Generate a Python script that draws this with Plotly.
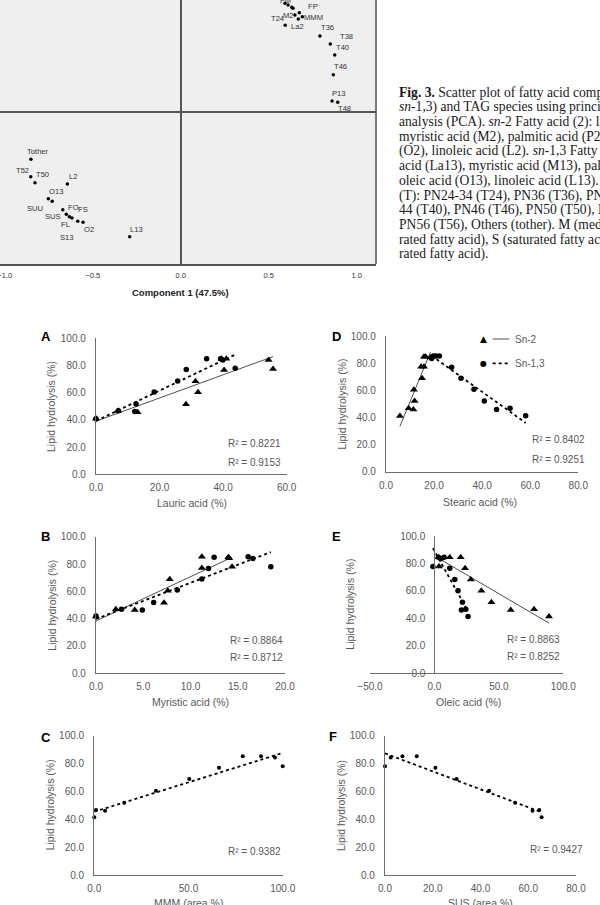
import numpy as np
import plotly.graph_objects as go

W, H = 600, 905

# ---------------- PCA data ----------------
pca_labels = ["FM", "", "", "", "FP", "M2", "T24", "MMM", "La2", "T36", "T38", "T40", "T46", "P13", "T48",
              "Tother", "T52", "T50", "L2", "O13", "SUU", "FO", "SUS", "FS", "FL", "S13", "O2", "L13"]
pca_comp1 = [0.593, 0.610, 0.631, 0.638, 0.674, 0.649, 0.668, 0.691, 0.594, 0.791, 0.850, 0.875, 0.867, 0.860, 0.892,
             -0.851, -0.852, -0.828, -0.644, -0.752, -0.730, -0.670, -0.650, -0.633, -0.618, -0.585, -0.555, -0.290]
pca_comp2 = [0.618, 0.608, 0.595, 0.589, 0.564, 0.551, 0.528, 0.541, 0.493, 0.432, 0.386, 0.324, 0.212, 0.0625, 0.055,
             -0.269, -0.368, -0.402, -0.409, -0.493, -0.507, -0.555, -0.581, -0.595, -0.602, -0.621, -0.627, -0.709]
pca_xticks = [-1.0, -0.5, 0.0, 0.5, 1.0]
pca_xtitle = "Component 1 (47.5%)"

# ---------------- Regression panels data ----------------
A_sn2_x = [0, 7.0, 13.1, 28.3, 32.1, 31.3, 40.3, 41.0, 39.5, 54.3, 55.7]
A_sn2_y = [41, 46.7, 45.6, 51.5, 60.3, 68.4, 76.7, 85, 85, 84, 77.5]
A_sn13_x = [0, 7.0, 12.2, 12.6, 18.3, 25.7, 28.4, 34.8, 39.2, 39.9, 43.8]
A_sn13_y = [40.9, 46.8, 46.1, 51.7, 60.5, 68.6, 77, 85, 85, 84, 77.9]

B_sn2_x = [0, 2.1, 4.1, 7.2, 7.6, 7.8, 11.2, 11.2, 14.0, 14.1, 14.4]
B_sn2_y = [41.5, 46.8, 46.3, 51.7, 60.5, 68.8, 77, 85.4, 85, 84.2, 78]
B_sn13_x = [0, 2.7, 4.9, 6.1, 8.6, 11.2, 11.9, 12.5, 16.1, 16.6, 18.5]
B_sn13_y = [42, 46.8, 46.3, 51.9, 61, 69, 76.8, 84.9, 85.4, 84.1, 78]

C_x = [0, 0.9, 5.7, 15.9, 32.7, 50.4, 66.2, 78.8, 88.5, 95.9, 100]
C_y = [41.4, 46.7, 46.2, 51.9, 60.5, 68.9, 77, 85.2, 85.2, 84.4, 78]

D_sn2_x = [5.8, 9.4, 11.4, 11.9, 11.6, 15.0, 14.6, 15.8, 15.8, 16.5, 18.5]
D_sn2_y = [41, 46.7, 45.9, 52.1, 60.4, 68.8, 77.4, 77.4, 84.8, 84.8, 84.2]
D_sn13_x = [58.1, 51.6, 46.0, 40.9, 36.6, 31.2, 27.3, 19.0, 19.7, 20.8, 22.2]
D_sn13_y = [41.3, 46.7, 45.9, 52.1, 60.7, 68.8, 76.9, 83.5, 85.3, 85.3, 85.3]

E_sn2_x = [88.9, 77.3, 59.2, 44.2, 36.4, 28.2, 23.8, 20.4, 11.9, 3.1, 3.6]
E_sn2_y = [41.3, 46.6, 46.1, 51.7, 60.2, 68.4, 76.5, 84.5, 84.5, 84.5, 77.7]
E_sn13_x = [26.1, 24.3, 20.9, 21.7, 18.3, 15.8, 11.9, 7.5, 3.1, 5.0, -1.2]
E_sn13_y = [41.3, 46.6, 46.1, 51.7, 60.2, 68.4, 76.5, 84.5, 84.5, 83.5, 77.7]

F_x = [65.6, 64.6, 61.8, 54.5, 43.6, 30.0, 21.1, 13.3, 7.3, 2.4, 0]
F_y = [41.4, 46.7, 46.2, 51.9, 60.5, 68.9, 77, 85.2, 85.2, 84.4, 78]

x_titles = {"A": "Lauric acid (%)", "B": "Myristic acid (%)", "C": "MMM (area %)",
            "D": "Stearic acid (%)", "E": "Oleic acid (%)", "F": "SUS (area %)"}
y_title = "Lipid hydrolysis (%)"
r2_labels = {"A": ["R² = 0.8221", "R² = 0.9153"], "B": ["R² = 0.8864", "R² = 0.8712"],
             "C": ["R² = 0.9382"], "D": ["R² = 0.8402", "R² = 0.9251"],
             "E": ["R² = 0.8863", "R² = 0.8252"], "F": ["R² = 0.9427"]}
legend_names = ["Sn-2", "Sn-1,3"]

caption_lines = [
    "<b>Fig. 3.</b> Scatter plot of fatty acid composition",
    "<i>sn</i>-1,3) and TAG species using principal",
    "analysis (PCA). <i>sn</i>-2 Fatty acid (2): lauric",
    "myristic acid (M2), palmitic acid (P2),",
    "(O2), linoleic acid (L2). <i>sn</i>-1,3 Fatty acid",
    "acid (La13), myristic acid (M13), palmitic",
    "oleic acid (O13), linoleic acid (L13). TAG",
    "(T): PN24-34 (T24), PN36 (T36), PN38",
    "44 (T40), PN46 (T46), PN50 (T50), PN52",
    "PN56 (T56), Others (tother). M (medium-",
    "rated fatty acid), S (saturated fatty acid),",
    "rated fatty acid).",
]

# ---------------- styling / layout helpers ----------------
SANS = "Liberation Sans, Arial, sans-serif"
SERIF = "Liberation Serif, Times New Roman, serif"
GRAY = "#595959"
AXC = "#6e6e6e"


def fx(px):
    return px / W


def fy(py):
    return 1 - py / H


def note(px, py, text, size, color=GRAY, family=SANS, xanchor="center", angle=0):
    return dict(x=fx(px), y=fy(py), xref="paper", yref="paper", text=text, showarrow=False,
                xanchor=xanchor, yanchor="middle", textangle=angle,
                font=dict(size=size, color=color, family=family))


fig = go.Figure()
annotations = []
shapes = []
layout = dict(width=W, height=H, margin=dict(l=0, r=0, t=0, b=0, pad=0), paper_bgcolor="white",
              plot_bgcolor="rgba(0,0,0,0)", showlegend=False, font=dict(family=SANS, color=GRAY))

# ---------------- PCA panel ----------------
pca_left, pca_right, pca_bottom, pca_top = 0, 376, 264, 0
pca_x0px, pca_y0px, pca_scale = 180.7, 112, 176.0
pca_xr = [(pca_left - pca_x0px) / pca_scale, (pca_right - pca_x0px) / pca_scale]
pca_yr = [(pca_y0px - pca_bottom) / pca_scale, (pca_y0px - pca_top) / pca_scale]
layout["xaxis"] = dict(domain=[fx(pca_left), fx(pca_right)], range=pca_xr, anchor="y", showgrid=False,
                       zeroline=True, zerolinecolor="#555", zerolinewidth=1.5, showline=True,
                       linecolor="#555", linewidth=1.5, tickvals=pca_xticks, tickformat=".1f", ticks="",
                       tickfont=dict(size=7.5, color="#333"), ticklabeloverflow="allow",
                       ticklabelstandoff=3, automargin=False)
layout["yaxis"] = dict(domain=[fy(pca_bottom), fy(pca_top)], range=pca_yr, anchor="x", showgrid=False,
                       zeroline=True, zerolinecolor="#555", zerolinewidth=1.5, showticklabels=False,
                       showline=False, automargin=False)
shapes.append(dict(type="rect", xref="x domain", yref="y domain", x0=0, x1=1, y0=0, y1=1,
                   fillcolor="#efefef", line=dict(width=0), layer="below"))
shapes.append(dict(type="line", xref="x domain", yref="y domain", x0=1, x1=1, y0=0, y1=1,
                   line=dict(color="#555", width=1.5)))
fig.add_trace(go.Scatter(x=pca_comp1, y=pca_comp2, mode="markers", xaxis="x", yaxis="y",
                         marker=dict(color="black", size=3.5), cliponaxis=False, hoverinfo="skip"))
pca_dx = [0, 0, 0, 0, 13.7, -6, -21, 10.7, 12.4, 7.7, 16.4, 7.6, 7.4, 7, 7.3,
          7.3, -8.4, 7.7, 6, 7.4, -17.3, 10.6, -13, 14, -6.3, -10.4, 6.3, 7.3]
pca_dy = [-3, 0, 0, 0, -6.7, 0, -0.7, 0.6, 1.4, -8.3, -7.7, -7.7, -8, -7.7, 6.4,
          -7.6, -6.4, -8.4, -7.3, -7, 7, -2.4, 2.4, -7.4, 6.7, 16, 6.7, -7.7]
for lab, cx, cy, dx, dy in zip(pca_labels, pca_comp1, pca_comp2, pca_dx, pca_dy):
    if lab:
        annotations.append(dict(x=cx, y=cy, xref="x", yref="y", text=lab, showarrow=False,
                                xanchor="center", yanchor="middle",
                                xshift=dx, yshift=-dy, font=dict(size=7.6, color="#333", family=SANS)))
annotations.append(note(180, 292, "<b>" + pca_xtitle + "</b>", 9.5, color="#222"))

# ---------------- caption ----------------
for i, line in enumerate(caption_lines):
    annotations.append(note(396.5, 92.7 + i * 14.7, line, 13.6, color="#1a1a1a", family=SERIF, xanchor="left"))

# ---------------- regression panels ----------------
panels = [
    dict(key="A", left=96, right=286.7, y0=474.3, y100=338.3, xr=[0, 60], dtick=20,
         series=[(A_sn2_x, A_sn2_y, "sn2"), (A_sn13_x, A_sn13_y, "sn13")],
         r2=[(254, 444), (254, 462.3)], letter=(46, 336.7), ytx=51.7, xt=(191.7, 503.3), circ=5.5),
    dict(key="B", left=96, right=285, y0=673.3, y100=536.7, xr=[0, 20], dtick=5,
         series=[(B_sn2_x, B_sn2_y, "sn2"), (B_sn13_x, B_sn13_y, "sn13")],
         r2=[(256.7, 640), (256.7, 657.3)], letter=(45, 536.7), ytx=51.7, xt=(190, 701.7), circ=5.5),
    dict(key="C", left=94.3, right=282.7, y0=875, y100=735.7, xr=[0, 100], dtick=50,
         series=[(C_x, C_y, "sn13")],
         r2=[(254, 851.7)], letter=(46, 737.3), ytx=50, xt=(188.3, 902.7), circ=4),
    dict(key="D", left=386, right=578.3, y0=471.7, y100=336, xr=[0, 80], dtick=20,
         series=[(D_sn2_x, D_sn2_y, "sn2"), (D_sn13_x, D_sn13_y, "sn13")],
         r2=[(558.3, 439.3), (558.3, 459)], letter=(336, 336.7), ytx=341.7, xt=(480, 501.7), circ=5.5),
    dict(key="E", left=370, right=563.3, y0=673.3, y100=536, xr=[-50, 100], dtick=50,
         series=[(E_sn2_x, E_sn2_y, "sn2"), (E_sn13_x, E_sn13_y, "sn13")],
         r2=[(533.3, 639.3), (533.3, 656)], letter=(336, 536.7), ytx=350, xt=(468.3, 701.7), circ=5.5),
    dict(key="F", left=385, right=576, y0=875, y100=735.7, xr=[0, 80], dtick=20,
         series=[(F_x, F_y, "sn13")],
         r2=[(556.7, 849.3)], letter=(333.3, 736.7), ytx=341.7, xt=(480, 902.7), circ=4),
]

for n, p in enumerate(panels, start=2):
    xa, ya = "x%d" % n, "y%d" % n
    xr = p["xr"]
    xaxis = dict(domain=[fx(p["left"]), fx(p["right"])], range=xr, anchor=ya, showgrid=False, zeroline=False,
                 showline=True, linecolor=AXC, linewidth=1.3, ticks="", dtick=p["dtick"], tick0=xr[0],
                 tickformat=".1f", tickfont=dict(size=10, color=GRAY), ticklabelstandoff=4, automargin=False)
    yaxis = dict(domain=[fy(p["y0"]), fy(p["y100"])], range=[0, 100], anchor=xa, showgrid=False, zeroline=False,
                 showline=True, linecolor=AXC, linewidth=1.3, ticks="", dtick=20, tickformat=".1f",
                 tickfont=dict(size=10, color=GRAY), ticklabelstandoff=7, automargin=False)
    if xr[0] < 0:
        zero_px = p["left"] + (0 - xr[0]) / (xr[1] - xr[0]) * (p["right"] - p["left"])
        yaxis.update(anchor="free", position=fx(zero_px))
    layout["xaxis%d" % n] = xaxis
    layout["yaxis%d" % n] = yaxis

    for xs, ys, kind in p["series"]:
        xs_a, ys_a = np.array(xs, float), np.array(ys, float)
        slope, icpt = np.polyfit(xs_a, ys_a, 1)
        xl = np.array([xs_a.min(), xs_a.max()])
        if kind == "sn2":
            fig.add_trace(go.Scatter(x=xl, y=slope * xl + icpt, mode="lines", xaxis=xa, yaxis=ya,
                                     line=dict(color="#505050", width=1), hoverinfo="skip", cliponaxis=False))
            fig.add_trace(go.Scatter(x=xs, y=ys, mode="markers", xaxis=xa, yaxis=ya, cliponaxis=False,
                                     marker=dict(symbol="triangle-up", size=7, color="black"), hoverinfo="skip"))
        else:
            fig.add_trace(go.Scatter(x=xl, y=slope * xl + icpt, mode="lines", xaxis=xa, yaxis=ya,
                                     line=dict(color="black", width=1.8, dash="dot"), hoverinfo="skip",
                                     cliponaxis=False))
            fig.add_trace(go.Scatter(x=xs, y=ys, mode="markers", xaxis=xa, yaxis=ya, cliponaxis=False,
                                     marker=dict(symbol="circle", size=p["circ"], color="black"),
                                     hoverinfo="skip"))

    for (rx, ry), txt in zip(p["r2"], r2_labels[p["key"]]):
        annotations.append(note(rx, ry, txt, 10))
    annotations.append(note(p["letter"][0], p["letter"][1], "<b>%s</b>" % p["key"], 13, color="black"))
    annotations.append(note(p["ytx"], (p["y0"] + p["y100"]) / 2, y_title, 10.5, angle=-90))
    annotations.append(note(p["xt"][0], p["xt"][1], x_titles[p["key"]], 10.5))

# ---------------- legend in panel D ----------------
leg_rows = [(339, "▲", dict(color="#505050", width=1), 9), (363.3, "●", dict(color="black", width=1.8, dash="dot"), 8)]
for (ly, glyph, lstyle, gsize), name in zip(leg_rows, legend_names):
    annotations.append(note(483, ly, glyph, gsize, color="black", family="DejaVu Sans"))
    shapes.append(dict(type="line", xref="paper", yref="paper", x0=fx(492.7), x1=fx(509.3), y0=fy(ly), y1=fy(ly),
                       line=lstyle))
    annotations.append(note(513.3, ly, name, 10, xanchor="left"))

layout["annotations"] = annotations
layout["shapes"] = shapes
fig.update_layout(**layout)
fig.write_html("out.html")
